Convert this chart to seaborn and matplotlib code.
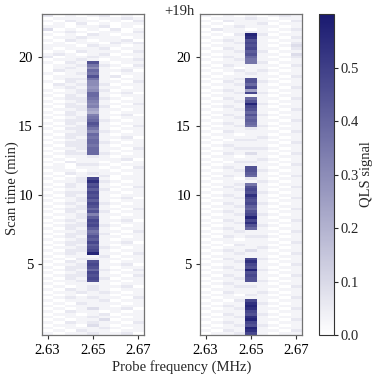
import numpy as np
import pandas as pd
import matplotlib
matplotlib.use("Agg")
import matplotlib.pyplot as plt
import seaborn as sns
from matplotlib.colors import LinearSegmentedColormap

# =========================
# Data
# =========================
# probe frequencies (MHz), one column each
freqs = [2.63, 2.635, 2.64, 2.645, 2.65, 2.655, 2.66, 2.665, 2.67]
# scan time of each row (min), top row first
scan_time = np.round(np.arange(23.0, -0.05, -0.2), 1)

# each row: one character per frequency, signal level in steps of 0.03 (base 36)
level_step = 0.03

rows_start = [
    "201012010", "011101121", "102110102", "010201011", "110112010",
    "301010201", "012101102", "101021011", "011211101", "102101120",
    "010110212", "111021101", "101112011", "010211102", "121012011",
    "201121101", "011210112", "1021F1011", "0112C2102", "0121A1011",
    "0211D1120", "1012C1011", "0111F1201", "0122C1011", "1021A1102",
    "0212A2011", "012191101", "1012A2011", "0112D1120", "1021D1011",
    "0122C2101", "1012B1011", "0121A1102", "1022B2011", "011281101",
    "102171011", "0121B1120", "1012C1011", "0122D2101", "1021F1011",
    "0112E1102", "1022C1011", "0112A2101", "1022D1011", "0121C1120",
    "1012D1011", "0122D2101", "1022C1011", "0112D1102", "1021D1011",
    "0122D2101", "101121011", "010111120", "102110101", "010221011",
    "110110102", "011011011", "102121101", "010112011", "1012G1011",
    "0112I2101", "1021F1011", "0121G1102", "1011E2011", "0122G1101",
    "1021F1011", "0112G1120", "1012E1011", "0121G2101", "1012F1011",
    "0122D1102", "1021F2011", "0112B1101", "1012E1011", "0121G1120",
    "1012F1011", "0122G2101", "1021E1011", "0112C1102", "1022D2011",
    "0121F1101", "1012E1011", "0122G1120", "1021E1011", "0112F2101",
    "1022G1011", "0121J1102", "101112011", "010221101", "1021F1011",
    "0112G1120", "1022F1011", "0121D2102", "1012G1011", "0122F1102",
    "1021G2011", "0112F1101", "101111011", "010121120", "102121011",
    "011212101", "101011011", "012121102", "101112011", "010211101",
    "101111011", "010131120", "102110101", "011012011", "101121101",
    "010113011", "102121102", "011031011", "101112101", "010211011",
    "101121120",
]

rows_later = [
    "101010121", "011121011", "102111102", "010112011", "101211101",
    "021101012", "101121101", "0102J2011", "1011I1102", "0121F1011",
    "1012G1102", "0111F1013", "1021G1102", "0112E2011", "1011F1103",
    "0121D1012", "1012C1101", "0111C2011", "102111102", "011011011",
    "101212101", "010121011", "101111102", "0112F1011", "1021F2101",
    "0112D1011", "1011G1102", "012181011", "1012G2101", "011111011",
    "1021D1102", "0112F1011", "1011J2101", "0121G1011", "1012F1102",
    "0111D1011", "1021F2101", "0112D1011", "1011E1102", "0121D1011",
    "1012C2101", "011121011", "102111102", "011011011", "101112101",
    "010221011", "101111102", "012111011", "101222101", "011111011",
    "102131102", "011011011", "101112101", "010221011", "101111102",
    "0121F1011", "1012F2101", "0111E1011", "1021D1102", "011021011",
    "101112101", "0112C1011", "1021F1102", "0112G1011", "1011F2101",
    "0121I1011", "1012G1102", "0111F1011", "1021G2101", "0112E1011",
    "1011D1102", "0121F1011", "1012G2101", "0111J1011", "1021G1102",
    "0112I1011", "1011F2101", "0121D1011", "101211102", "011111011",
    "102122101", "011011011", "101111102", "010211011", "101112101",
    "012131011", "101211102", "011111011", "1021G2101", "0112I1011",
    "1011G1102", "0121F1011", "1012J2101", "0111F1011", "1021G1102",
    "0112F1011", "1011F2101", "012111011", "101221102", "011111011",
    "102112101", "011021011", "101111102", "0102G1011", "1011I2101",
    "0121J1011", "1012I1102", "0111G1011", "1021F2101", "0112I1011",
    "1011J1102", "0121G1011", "1012F2101", "0111J1011", "1021I1102",
    "0112G1011",
]

tick_freqs = [2.63, 2.65, 2.67]
tick_times = [5, 10, 15, 20]
cbar_ticks = [0.0, 0.1, 0.2, 0.3, 0.4, 0.5]


def to_frame(rows):
    vals = np.array([[int(c, 36) for c in r] for r in rows]) * level_step
    return pd.DataFrame(vals, index=scan_time, columns=freqs)


df_start = to_frame(rows_start)
df_later = to_frame(rows_later)

# =========================
# Style
# =========================
sns.set_style("ticks")
plt.rcParams["font.family"] = "serif"
plt.rcParams["font.serif"] = ["Liberation Serif", "DejaVu Serif"]
plt.rcParams["font.size"] = 10.5

cmap = LinearSegmentedColormap.from_list("qls", ["#ffffff", "#191970"])

fig = plt.figure(figsize=(3.8, 3.81), dpi=100)
ax1 = fig.add_axes([0.1105, 0.1207, 0.2684, 0.8425])
ax2 = fig.add_axes([0.5263, 0.1207, 0.2684, 0.8425])
cax = fig.add_axes([0.8395, 0.1207, 0.0395, 0.8425])

sns.heatmap(df_start, ax=ax1, cmap=cmap, vmin=0, vmax=0.6,
            cbar_ax=cax, xticklabels=False, yticklabels=False)
sns.heatmap(df_later, ax=ax2, cmap=cmap, vmin=0, vmax=0.6,
            cbar=False, xticklabels=False, yticklabels=False)

# map frequency / time values to heatmap cell positions
xpos = [freqs.index(f) + 0.5 for f in tick_freqs]
ypos = [int(np.argmin(np.abs(scan_time - t))) + 0.5 for t in tick_times]

for ax in (ax1, ax2):
    ax.set_xticks(xpos)
    ax.set_xticklabels([f"{f:.2f}" for f in tick_freqs], rotation=0)
    ax.set_yticks(ypos)
    ax.set_yticklabels([str(t) for t in tick_times], rotation=0)
    ax.set_xlabel("")
    ax.set_ylabel("")
    ax.tick_params(length=3, width=0.8, direction="out", colors="0.2",
                   labelcolor="black", labelsize=10.5)
    for s in ax.spines.values():
        s.set_visible(True)
        s.set_color("0.45")
        s.set_linewidth(0.9)

ax2.text(-0.05, 0.998, "+19h", transform=ax2.transAxes,
         ha="right", va="baseline", fontsize=10.5)

cbar = ax1.collections[0].colorbar
cbar.set_ticks(cbar_ticks)
cbar.set_ticklabels([f"{v:.1f}" for v in cbar_ticks])
cbar.ax.tick_params(length=3, width=0.8, pad=1.5, labelsize=10.5)
cbar.outline.set_visible(True)
cbar.outline.set_edgecolor("0.2")
cbar.outline.set_linewidth(0.8)
cbar.set_label("QLS signal", fontsize=10.5, labelpad=1)

fig.text(182 / 380, 1 - 367 / 381, "Probe frequency (MHz)",
         ha="center", va="center", fontsize=10.5)
fig.text(12 / 380, 1 - 188 / 381, "Scan time (min)", rotation=90,
         ha="center", va="center", fontsize=10.5)

fig.savefig("out.png", dpi=100)
